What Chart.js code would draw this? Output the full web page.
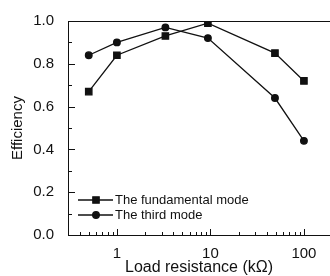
<!DOCTYPE html>
<html>
<head>
<meta charset="utf-8">
<script src="https://cdn.jsdelivr.net/npm/chart.js@4.4.0/dist/chart.umd.min.js"></script>
<style>
	html, body { margin: 0; padding: 0; background: #fff; overflow: hidden; }
</style>
</head>
<body>
<canvas id="effChart" width="330" height="276"></canvas>

<script>
	// values
	const loadResistance = [0.5, 1, 3.3, 9.4, 49, 100];
	const fundamentalMode = [0.67, 0.84, 0.93, 0.99, 0.85, 0.72];
	const thirdMode = [0.84, 0.90, 0.97, 0.92, 0.64, 0.44];
	const seriesNames = ['The fundamental mode', 'The third mode'];
	const xTickLabels = [1, 10, 100];
	const yTickLabels = [0.0, 0.2, 0.4, 0.6, 0.8, 1.0];

	const FONT = '"Liberation Sans", Arial, sans-serif';
	const INK = '#111';

	function toPoints(xs, ys) {
		return xs.map(function (x, i) { return { x: x, y: ys[i] }; });
	}

	// inward ticks + top frame line
	const frameTicks = {
		id: 'frameTicks',
		afterDraw: function (chart) {
			const ctx = chart.ctx;
			const area = chart.chartArea;
			const xs = chart.scales.x;
			const ys = chart.scales.y;
			ctx.save();
			ctx.strokeStyle = INK;
			ctx.lineWidth = 1;
			ctx.beginPath();
			ctx.moveTo(area.left, area.top + 0.5);
			ctx.lineTo(area.right, area.top + 0.5);

			// y ticks
			for (let v = 0; v <= 1.0001; v += 0.1) {
				const y = Math.round(ys.getPixelForValue(v)) + 0.5;
				const major = yTickLabels.some(function (t) { return Math.abs(t - v) < 1e-6; });
				const len = major ? 7 : 4;
				ctx.moveTo(area.left, y);
				ctx.lineTo(area.left + len, y);
			}

			// x ticks
			[0.1, 1, 10, 100].forEach(function (d) {
				for (let k = 1; k <= 9; k++) {
					const v = k * d;
					if (v <= xs.min || v >= xs.max) continue;
					const x = Math.round(xs.getPixelForValue(v)) + 0.5;
					const len = xTickLabels.indexOf(v) >= 0 ? 6 : 3;
					ctx.moveTo(x, area.bottom);
					ctx.lineTo(x, area.bottom - len);
				}
			});
			ctx.stroke();
			ctx.restore();
		}
	};

	// legend drawn as line + marker, like the original figure
	const lineLegend = {
		id: 'lineLegend',
		afterDraw: function (chart) {
			const ctx = chart.ctx;
			const rows = [200, 215];
			ctx.save();
			chart.data.datasets.forEach(function (ds, i) {
				const y = rows[i];
				ctx.strokeStyle = INK;
				ctx.fillStyle = INK;
				ctx.lineWidth = 1.3;
				ctx.beginPath();
				ctx.moveTo(78, y);
				ctx.lineTo(113, y);
				ctx.stroke();
				Chart.helpers.drawPoint(ctx, {
					pointStyle: ds.pointStyle,
					radius: ds.pointRadius,
					rotation: 0,
					borderWidth: 1
				}, 96, y);
				ctx.font = '13px ' + FONT;
				ctx.textBaseline = 'middle';
				ctx.textAlign = 'left';
				ctx.fillText(ds.label, 115, y);
			});
			ctx.restore();
		}
	};

	var ctx = document.getElementById('effChart').getContext('2d');
	var effChart = new Chart(ctx, {
		type: 'line',
		data: {
			datasets: [{
				label: seriesNames[0],
				data: toPoints(loadResistance, fundamentalMode),
				borderColor: INK,
				backgroundColor: INK,
				borderWidth: 1.3,
				pointStyle: 'rect',
				pointRadius: 4.5,
				fill: false,
				tension: 0
			}, {
				label: seriesNames[1],
				data: toPoints(loadResistance, thirdMode),
				borderColor: INK,
				backgroundColor: INK,
				borderWidth: 1.3,
				pointStyle: 'circle',
				pointRadius: 3.3,
				fill: false,
				tension: 0
			}]
		},
		options: {
			responsive: false,
			animation: false,
			layout: { autoPadding: false, padding: { top: 21, right: 0, bottom: 0, left: 0 } },
			plugins: {
				legend: { display: false },
				tooltip: { enabled: false }
			},
			scales: {
				x: {
					type: 'logarithmic',
					min: 0.3,
					max: 190,
					grid: { display: false },
					border: { display: true, color: INK, width: 1 },
					ticks: {
						autoSkip: false,
						maxRotation: 0,
						padding: 2,
						color: INK,
						font: { family: FONT, size: 15 },
						callback: function (value) {
							return xTickLabels.indexOf(value) >= 0 ? String(value) : '';
						}
					},
					title: {
						display: true,
						text: 'Load resistance (k\u03A9)',
						color: INK,
						font: { family: FONT, size: 16 },
						padding: { top: 0, bottom: -1 }
					},
					afterFit: function (scale) {
						scale.height = 41;
						scale.paddingLeft = 0;
						scale.paddingRight = 0;
					}
				},
				y: {
					min: 0,
					max: 1.0,
					grid: { display: false },
					border: { display: true, color: INK, width: 1 },
					ticks: {
						stepSize: 0.2,
						padding: 6,
						color: INK,
						font: { family: FONT, size: 15 },
						callback: function (value) { return value.toFixed(1); }
					},
					title: {
						display: true,
						text: 'Efficiency',
						color: INK,
						font: { family: FONT, size: 15 },
						padding: { top: 9, bottom: 0 }
					},
					afterFit: function (scale) {
						scale.width = 68;
						scale.paddingTop = 0;
						scale.paddingBottom = 0;
					}
				}
			}
		},
		plugins: [frameTicks, lineLegend]
	});
</script>
</body>
</html>
